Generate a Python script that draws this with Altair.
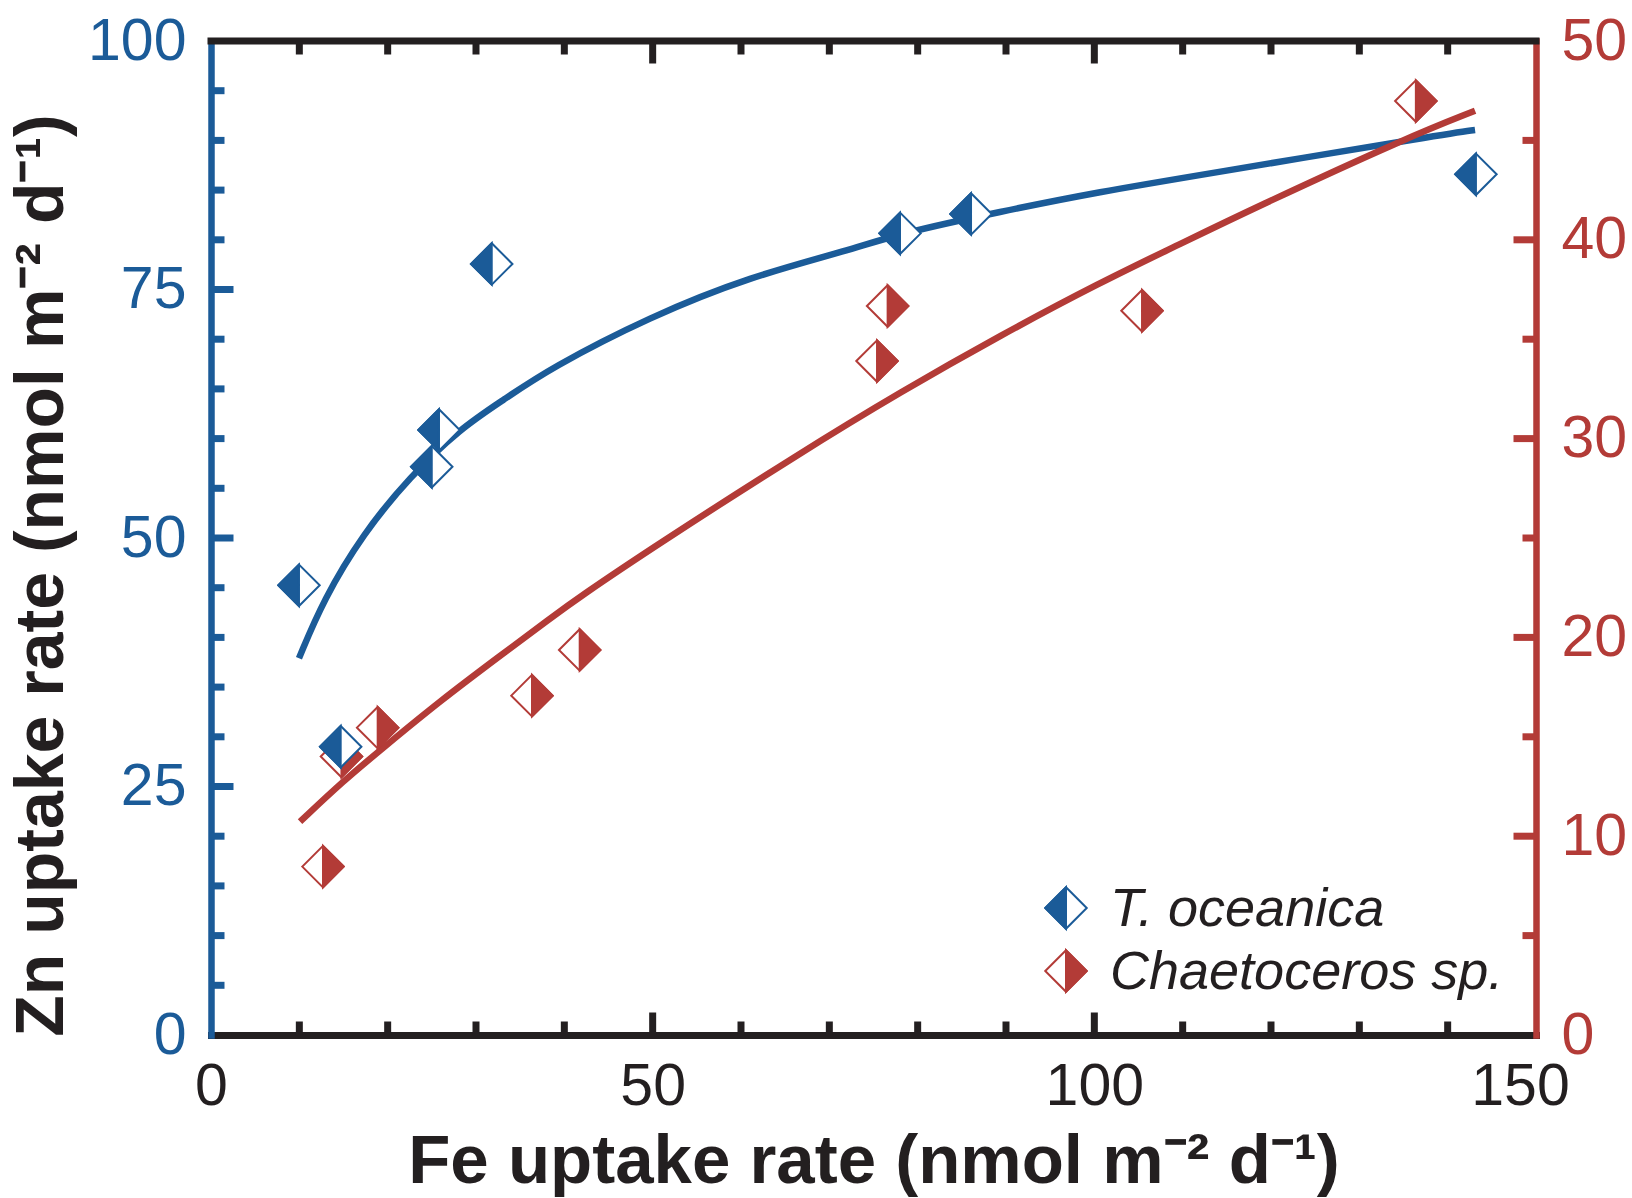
import altair as alt
import pandas as pd

# Measured uptake rates (Fe on x, Zn on y), nmol m^-2 d^-1
toc_fe = [9.96, 14.68, 24.99, 25.81, 31.78, 78.0, 86.04, 143.2]
toc_zn = [45.24, 29.0, 57.17, 60.87, 77.57, 80.65, 82.6, 86.59]

chae_fe = [12.68, 14.77, 18.87, 36.34, 41.74, 75.4, 76.6, 105.4, 136.4]
chae_zn = [8.47, 14.01, 15.46, 17.07, 19.37, 33.9, 36.67, 36.43, 46.98]

# Fitted curves, sampled along their length
toc_fit_fe = [9.96, 12.71, 17.24, 22.53, 28.19, 33.09, 38.38, 49.7, 61.02, 72.34,
              78.0, 89.32, 100.65, 111.97, 140.27, 143.1]
toc_fit_zn = [37.9, 43.76, 50.47, 56.17, 61.0, 63.88, 67.07, 72.26, 76.29, 78.97,
              80.65, 82.83, 84.84, 86.52, 90.71, 91.05]

chae_fit_fe = [10.08, 14.98, 19.5, 25.93, 32.72, 38.38, 41.77, 50.1, 66.76, 78.08,
               89.4, 100.65, 109.3, 117.6, 135.7, 143.1]
chae_fit_zn = [10.73, 12.78, 14.45, 16.8, 19.07, 20.95, 22.05, 24.55, 29.3, 32.35,
               35.2, 37.85, 39.7, 41.5, 45.2, 46.49]

# Axis ticks
x_labels = [0, 50, 100, 150]
x_minor = [10, 20, 30, 40, 60, 70, 80, 90, 110, 120, 130, 140]
x_major = [50, 100]
left_labels = [0, 25, 50, 75, 100]
left_minor = [5, 10, 15, 20, 30, 35, 40, 45, 55, 60, 65, 70, 80, 85, 90, 95]
left_major = [25, 50, 75]
right_labels = [0, 10, 20, 30, 40, 50]
right_minor = [5, 15, 25, 35, 45]
right_major = [10, 20, 30, 40]

species = ["T. oceanica", "Chaetoceros sp."]

BLUE = "#1b5b98"
RED = "#b33b37"
INK = "#231f20"
FONT = "Liberation Sans"
W, H = 1325, 994
MINOR, MAJOR = 13.5, 22.5
DIAMOND = 1720
LEFT_HALF = "M0,-1L-1,0L0,1Z"
RIGHT_HALF = "M0,-1L1,0L0,1Z"

x_scale = alt.Scale(domain=[0, 150], nice=False, zero=False)
left_scale = alt.Scale(domain=[0, 100], nice=False, zero=False)
right_scale = alt.Scale(domain=[0, 50], nice=False, zero=False)

x_axis = alt.Axis(
    values=x_labels, ticks=False, grid=False,
    domainColor=INK, domainWidth=7, domainCap="square",
    labelFont=FONT, labelFontSize=59, labelColor=INK, labelPadding=22,
    labelFlush=False, labelOverlap=False,
    labelOffset=alt.condition("datum.value == 150", alt.value(-16), alt.value(0)),
    title="Fe uptake rate (nmol m⁻² d⁻¹)", titleFont=FONT, titleFontSize=69,
    titleFontWeight="bold", titleColor=INK, titleX=W / 2, titleY=147,
    titleAlign="center", titleBaseline="alphabetic",
)
left_axis = alt.Axis(
    orient="left", values=left_labels, ticks=False, grid=False,
    domainColor=BLUE, domainWidth=6.5, domainCap="square",
    labelFont=FONT, labelFontSize=59, labelColor=BLUE, labelPadding=25,
    labelFlush=False, labelOverlap=False,
    title="Zn uptake rate (nmol m⁻² d⁻¹)", titleFont=FONT, titleFontSize=68,
    titleFontWeight="bold", titleColor=INK, titleAngle=270,
    titleX=-149, titleY=534, titleAlign="center", titleBaseline="alphabetic",
)
right_axis = alt.Axis(
    orient="right", values=right_labels, ticks=False, grid=False,
    domainColor=RED, domainWidth=6.5, domainCap="square",
    labelFont=FONT, labelFontSize=59, labelColor=RED, labelPadding=25,
    labelFlush=False, labelOverlap=False, title=None,
)

toc = pd.DataFrame({"fe": toc_fe, "zn": toc_zn})
chae = pd.DataFrame({"fe": chae_fe, "zn": chae_zn})
toc_fit = pd.DataFrame({"fe": toc_fit_fe, "zn": toc_fit_zn})
chae_fit = pd.DataFrame({"fe": chae_fit_fe, "zn": chae_fit_zn})


def X():
    return alt.X("fe:Q", scale=x_scale, axis=x_axis)


def ticks_x(values, length):
    df = pd.DataFrame({"fe": values})
    bottom = alt.Chart(df).mark_rule(color=INK, strokeWidth=7).encode(
        x=X(), y=alt.value(H), y2=alt.value(H - length))
    top = alt.Chart(df).mark_rule(color=INK, strokeWidth=7).encode(
        x=X(), y=alt.value(0), y2=alt.value(length))
    return [bottom, top]


def ticks_y(values, length, scale, axis, color, side):
    df = pd.DataFrame({"zn": values})
    x0 = 0 if side == "left" else W
    x1 = length if side == "left" else W - length
    return alt.Chart(df).mark_rule(color=color, strokeWidth=7).encode(
        y=alt.Y("zn:Q", scale=scale, axis=axis),
        x=alt.value(x0), x2=alt.value(x1))


def markers(df, color, half, scale, axis):
    outline = alt.Chart(df).mark_point(
        shape="diamond", size=DIAMOND, filled=True, fill="white",
        stroke=color, strokeWidth=2, opacity=1,
    ).encode(x=X(), y=alt.Y("zn:Q", scale=scale, axis=axis))
    solid = alt.Chart(df).mark_point(
        shape=half, size=DIAMOND, filled=True, fill=color,
        stroke=color, strokeWidth=2, opacity=1, strokeJoin="miter",
    ).encode(x=X(), y=alt.Y("zn:Q", scale=scale, axis=axis))
    return [outline, solid]


# Top frame line
frame_df = pd.DataFrame({"fe": [0]})
top_line = alt.Chart(frame_df).mark_rule(color=INK, strokeWidth=7, strokeCap="square").encode(
    x=alt.value(0), x2=alt.value(W), y=alt.value(0))

# Blue (left-axis) group: fit line, frame and ticks
toc_line = alt.Chart(toc_fit).mark_line(color=BLUE, strokeWidth=6.5, interpolate="basis").encode(
    x=X(), y=alt.Y("zn:Q", scale=left_scale, axis=left_axis))

left_group = alt.layer(
    top_line,
    *ticks_x(x_minor, MINOR),
    *ticks_x(x_major, MAJOR),
    ticks_y(left_minor, MINOR, left_scale, left_axis, BLUE, "left"),
    ticks_y(left_major, MAJOR, left_scale, left_axis, BLUE, "left"),
    toc_line,
)

# Red (right-axis) group
chae_line = alt.Chart(chae_fit).mark_line(color=RED, strokeWidth=6.5, interpolate="basis").encode(
    x=X(), y=alt.Y("zn:Q", scale=right_scale, axis=right_axis))

right_group = alt.layer(
    ticks_y(right_minor, MINOR, right_scale, right_axis, RED, "right"),
    ticks_y(right_major, MAJOR, right_scale, right_axis, RED, "right"),
    chae_line,
    *markers(chae, RED, RIGHT_HALF, right_scale, right_axis),
)

# Blue markers on top, sharing the left domain without a second axis
toc_group = alt.layer(*markers(toc, BLUE, LEFT_HALF, left_scale, None))

# Legend
legend_rows = []
for i, (name, color, half) in enumerate([(species[0], BLUE, LEFT_HALF), (species[1], RED, RIGHT_HALF)]):
    d = pd.DataFrame({"label": [name]})
    cy = 867 + 63 * i
    legend_rows.append(alt.Chart(d).mark_point(
        shape="diamond", size=DIAMOND, filled=True, fill="white",
        stroke=color, strokeWidth=2, opacity=1).encode(x=alt.value(855), y=alt.value(cy)))
    legend_rows.append(alt.Chart(d).mark_point(
        shape=half, size=DIAMOND, filled=True, fill=color,
        stroke=color, strokeWidth=2, opacity=1).encode(x=alt.value(855), y=alt.value(cy)))
    legend_rows.append(alt.Chart(d).mark_text(
        font=FONT, fontSize=54, fontStyle="italic", color=INK,
        align="left", baseline="alphabetic").encode(
        x=alt.value(899), y=alt.value(cy + 18), text="label:N"))

legend_group = alt.layer(*legend_rows)

chart = alt.layer(left_group, right_group, toc_group, legend_group).resolve_scale(
    y="independent"
).properties(
    width=W, height=H,
    autosize=alt.AutoSizeParams(type="none"),
    padding={"left": 211, "top": 41, "right": 96, "bottom": 163},
    background="white",
).configure_view(stroke=None)

chart.save("out.html", embed_options={"renderer": "svg", "actions": False})
